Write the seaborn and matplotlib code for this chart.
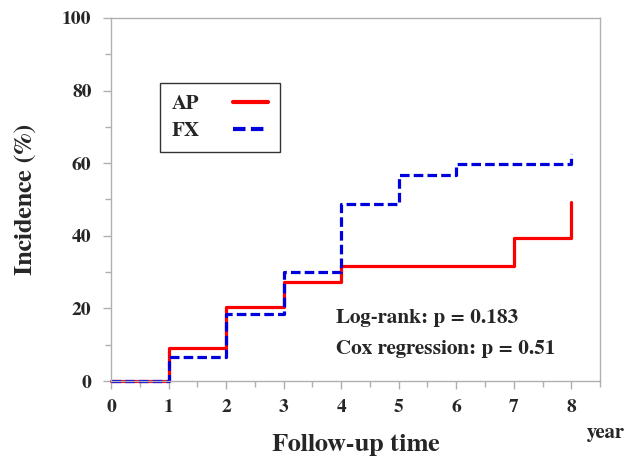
import numpy as np
import pandas as pd
import matplotlib
matplotlib.use('Agg')
import matplotlib.pyplot as plt
from matplotlib.ticker import MultipleLocator
import seaborn as sns

# follow-up years and cumulative incidence (%)
years = [0, 1, 2, 3, 4, 5, 6, 7, 8]
ap_incidence = [0, 9.0, 20.5, 27.2, 31.8, 31.8, 31.8, 39.3, 49.2]
fx_incidence = [0, 6.7, 18.5, 30.0, 48.8, 56.7, 59.7, 59.7, 62.5]
groups = ['AP', 'FX']
x_ticks = [0, 1, 2, 3, 4, 5, 6, 7, 8]
y_ticks = [0, 20, 40, 60, 80, 100]

df = pd.DataFrame({
    'year': years * 2,
    'incidence': ap_incidence + fx_incidence,
    'group': ['AP'] * len(years) + ['FX'] * len(years),
})

sns.set_style('white')
plt.rcParams['font.family'] = ['FreeSerif', 'Liberation Serif', 'DejaVu Serif']
plt.rcParams['font.weight'] = 'bold'

fig = plt.figure(figsize=(6.27, 4.58), dpi=100)
ax = fig.add_axes([0.177, 0.168, 0.78, 0.793])

palette = {'AP': '#ff0000', 'FX': '#0000dd'}
sns.lineplot(data=df, x='year', y='incidence', hue='group', style='group',
             palette=palette, dashes={'AP': '', 'FX': (3, 1.3)},
             drawstyle='steps-post', linewidth=2.3, ax=ax, clip_on=False)

ax.set_xlim(0, 8.5)
ax.set_ylim(0, 100)
ax.set_xticks(x_ticks)
ax.set_yticks(y_ticks)
ax.xaxis.set_minor_locator(MultipleLocator(0.5))
ax.yaxis.set_minor_locator(MultipleLocator(10))
ax.tick_params(which='both', direction='out', color='#b0b0b0', width=1)
ax.tick_params(which='major', length=6, labelsize=14)
ax.tick_params(which='minor', length=4)
ax.tick_params(axis='x', which='both', bottom=True, pad=7)
ax.tick_params(axis='y', which='both', left=True, pad=8)
for lab in ax.get_xticklabels() + ax.get_yticklabels():
    lab.set_fontweight('bold')
for sp in ax.spines.values():
    sp.set_color('#b0b0b0')
    sp.set_linewidth(1)

ax.set_xlabel('Follow-up time', fontsize=19, fontweight='bold', labelpad=13)
ax.set_ylabel('Incidence (%)', fontsize=19, fontweight='bold', labelpad=18)

ax.text(3.91, 17.4, 'Log-rank: p = 0.183', fontsize=15.3, fontweight='bold', va='center')
ax.text(3.91, 8.8, 'Cox regression: p = 0.51', fontsize=15.3, fontweight='bold', va='center')
fig.text(0.997, 0.055, 'year', fontsize=15, fontweight='bold', ha='right', va='center')

leg = ax.legend(loc='upper left', bbox_to_anchor=(0.1, 0.82), markerfirst=False,
                frameon=True, fancybox=False, edgecolor='black', fontsize=15,
                handlelength=1.7, borderpad=0.55, labelspacing=0.4, handletextpad=1.6,
                borderaxespad=0)
leg.get_frame().set_linewidth(1)
for t in leg.get_texts():
    t.set_fontweight('bold')
for h in leg.get_lines():
    h.set_linewidth(3)

fig.savefig('out.png', dpi=100)
